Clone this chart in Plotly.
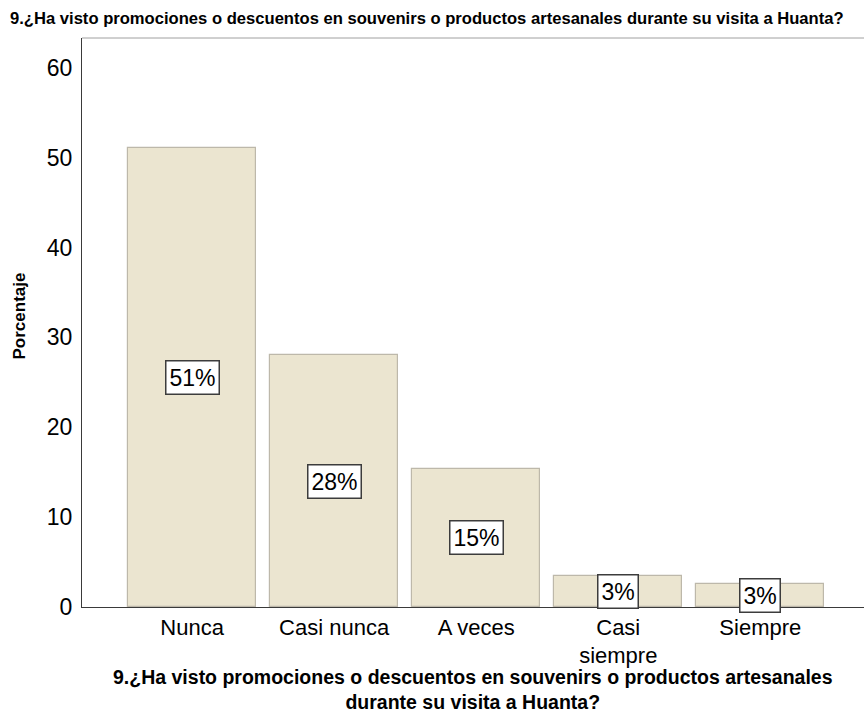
import plotly.graph_objects as go

# Survey question 9: responses and their percentage share
question = "9.¿Ha visto promociones o descuentos en souvenirs o productos artesanales durante su visita a Huanta?"
categories = ["Nunca", "Casi nunca", "A veces", "Casi siempre", "Siempre"]
tick_text = ["Nunca", "Casi nunca", "A veces", "Casi<br>siempre", "Siempre"]
percentages = [51.1, 28.0, 15.4, 3.4, 2.6]
y_ticks = [0, 10, 20, 30, 40, 50, 60]

FONT = "Liberation Sans, Arial, sans-serif"

fig = go.Figure()
fig.add_trace(go.Bar(
    x=categories,
    y=percentages,
    width=0.9,
    marker=dict(color="#ebe5d0", line=dict(color="#bdb8aa", width=1.2)),
    hoverinfo="skip",
))

# Percentage labels boxed in the middle of each bar
for cat, val in zip(categories, percentages):
    fig.add_annotation(
        x=cat, y=val / 2, xref="x", yref="y",
        text=f"{val:.0f}%", showarrow=False,
        font=dict(family=FONT, size=23, color="#000000"),
        bgcolor="#ffffff", bordercolor="#3c3c3c", borderwidth=1.5, borderpad=3,
    )

# Chart title across the top
fig.add_annotation(
    x=0, y=1, xref="paper", yref="paper", xshift=-74, yshift=20,
    text=f"<b>{question}</b>",
    showarrow=False, xanchor="left", yanchor="middle",
    font=dict(family=FONT, size=16.6, color="#000000"),
)

# Axis titles
fig.add_annotation(
    x=0.5, y=0, xref="paper", yref="paper", yanchor="top", yshift=-57,
    text="<b>9.¿Ha visto promociones o descuentos en souvenirs o productos artesanales<br>durante su visita a Huanta?</b>",
    showarrow=False, font=dict(family=FONT, size=19.5, color="#000000"),
)
fig.add_annotation(
    x=0, y=0.5, xref="paper", yref="paper", xanchor="center", xshift=-63, yshift=6,
    text="<b>Porcentaje</b>", textangle=-90, showarrow=False,
    font=dict(family=FONT, size=17, color="#000000"),
)

fig.update_layout(
    width=864, height=722,
    margin=dict(l=82, r=0, t=38, b=115),
    paper_bgcolor="#ffffff", plot_bgcolor="#ffffff",
    showlegend=False, bargap=0,
    font=dict(family=FONT, color="#000000"),
    shapes=[dict(type="line", xref="paper", yref="paper", x0=0, x1=1, y0=1, y1=1,
                 line=dict(color="#a0a0a0", width=1))],
)
fig.update_xaxes(
    range=[-0.775, 4.73], tickmode="array", tickvals=categories, ticktext=tick_text,
    tickfont=dict(family=FONT, size=22, color="#000000"),
    showline=True, linecolor="#3a3a3a", linewidth=1.2, showgrid=False, ticks="",
)
fig.update_yaxes(
    range=[0, 63.3], tickmode="array", tickvals=y_ticks,
    tickfont=dict(family=FONT, size=23, color="#000000"),
    showline=True, linecolor="#3a3a3a", linewidth=1.2, showgrid=False, zeroline=False,
    ticks="", ticklabelstandoff=4,
)

fig.write_html("out.html")
